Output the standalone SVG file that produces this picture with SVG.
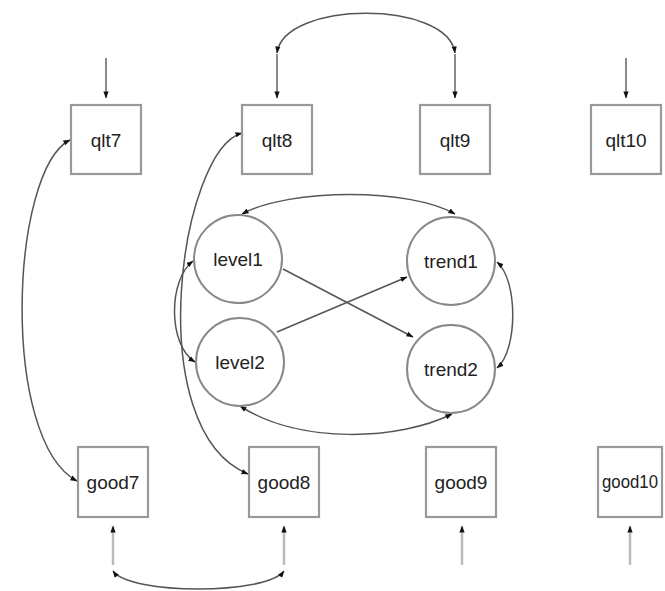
<svg xmlns="http://www.w3.org/2000/svg" width="665" height="591" viewBox="0 0 665 591">
<defs>
<marker id="ah" viewBox="0 0 8 6" refX="7.5" refY="3" markerWidth="7" markerHeight="6" markerUnits="userSpaceOnUse" orient="auto-start-reverse">
<path d="M0,0 L8,3 L0,6 z" fill="#111"/>
</marker>
</defs>
<style>
.box{fill:#fff;stroke:#999;stroke-width:2.2}
.lat{fill:#fff;stroke:#888;stroke-width:2}
.lbl{font-family:"Liberation Sans",Arial,sans-serif;font-size:19px;fill:#222;text-anchor:middle}
.e{fill:none;stroke:#555;stroke-width:1.5}
.v{fill:none;stroke:#666;stroke-width:1.5}
.vl{fill:none;stroke:#bbb;stroke-width:2.5}
</style>
<g id="connectors">
<path class="v" d="M106,58 L106,98" marker-end="url(#ah)"/>
<path class="v" d="M277,54 L277,98" marker-end="url(#ah)"/>
<path class="v" d="M455,54 L455,98" stroke-width="2" marker-end="url(#ah)"/>
<path class="v" d="M626,58 L626,98" marker-end="url(#ah)"/>
<path class="e" d="M277,53 C284,0 448,0 455,53" marker-start="url(#ah)" marker-end="url(#ah)"/>
<path class="vl" d="M113,565 L113,526" marker-end="url(#ah)"/>
<path class="vl" d="M284,565 L284,526" marker-end="url(#ah)"/>
<path class="vl" d="M462,565 L462,526" marker-end="url(#ah)"/>
<path class="vl" d="M630,565 L630,526" marker-end="url(#ah)"/>
<path class="e" d="M113,571 C130,595 266,595 284,571" marker-start="url(#ah)" marker-end="url(#ah)"/>
<path class="e" d="M70,140 C10,170 0,440 77,481" marker-start="url(#ah)" marker-end="url(#ah)"/>
<path class="e" d="M242,133 C180,150 140,430 248,474" marker-start="url(#ah)" marker-end="url(#ah)"/>
<path class="e" d="M193,261 C168,280 168,345 195,362" marker-start="url(#ah)" marker-end="url(#ah)"/>
<path class="e" d="M242,214 C290,188 410,188 455,214" marker-start="url(#ah)" marker-end="url(#ah)"/>
<path class="e" d="M240,406 C300,445 400,440 452,414" marker-start="url(#ah)" marker-end="url(#ah)"/>
<path class="e" d="M497,262 C518,280 518,350 497,368" marker-start="url(#ah)" marker-end="url(#ah)"/>
<path class="e" d="M283,269 L413,337" marker-end="url(#ah)"/>
<path class="e" d="M277,332 L407,277" marker-end="url(#ah)"/>
</g>
<g id="qlt7"><rect class="box" x="71" y="105" width="70" height="69"/><text class="lbl" x="106" y="147">qlt7</text></g>
<g id="qlt8"><rect class="box" x="242" y="105" width="70" height="69"/><text class="lbl" x="277" y="147">qlt8</text></g>
<g id="qlt9"><rect class="box" x="420" y="105" width="70" height="69"/><text class="lbl" x="455" y="147">qlt9</text></g>
<g id="qlt10"><rect class="box" x="591" y="105" width="70" height="69"/><text class="lbl" x="626" y="147">qlt10</text></g>
<g id="good7"><rect class="box" x="78" y="447" width="70" height="70"/><text class="lbl" x="113" y="489">good7</text></g>
<g id="good8"><rect class="box" x="249" y="447" width="70" height="70"/><text class="lbl" x="284" y="489">good8</text></g>
<g id="good9"><rect class="box" x="426" y="447" width="70" height="70"/><text class="lbl" x="461" y="489">good9</text></g>
<g id="good10"><rect class="box" x="598" y="447" width="64" height="70"/><text class="lbl" x="630" y="488" font-size="16" textLength="56" lengthAdjust="spacingAndGlyphs">good10</text></g>
<g id="level1"><circle class="lat" cx="238" cy="259" r="44"/><text class="lbl" x="238" y="266">level1</text></g>
<g id="trend1"><circle class="lat" cx="451" cy="261" r="44"/><text class="lbl" x="451" y="268">trend1</text></g>
<g id="level2"><circle class="lat" cx="240" cy="362" r="44"/><text class="lbl" x="240" y="369">level2</text></g>
<g id="trend2"><circle class="lat" cx="451" cy="369" r="44"/><text class="lbl" x="451" y="376">trend2</text></g>
</svg>
